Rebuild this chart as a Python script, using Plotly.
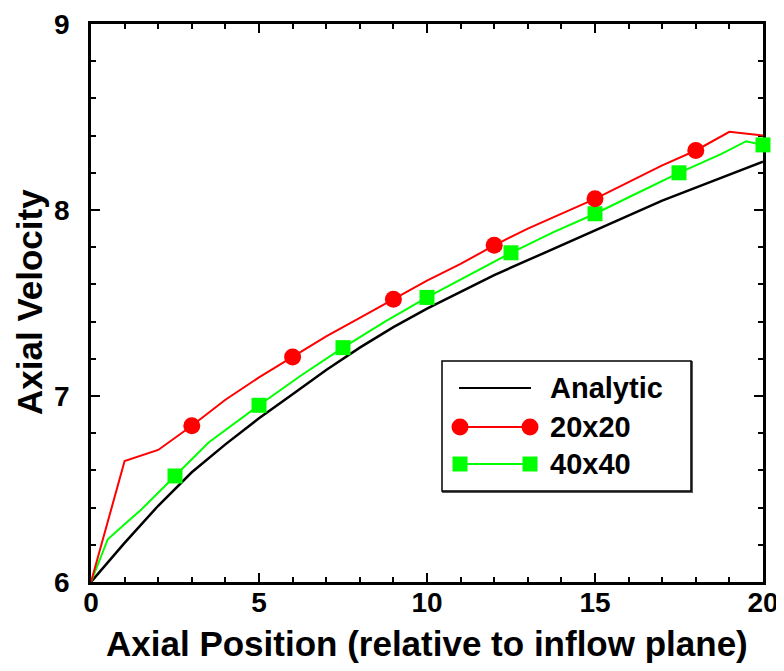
import plotly.graph_objects as go

# ---- data ----
analytic_x = list(range(0, 21))
analytic_y = [6.00, 6.21, 6.41, 6.59, 6.74, 6.88, 7.01, 7.14, 7.26, 7.37, 7.47,
              7.56, 7.65, 7.73, 7.81, 7.89, 7.97, 8.05, 8.12, 8.19, 8.26]

red_x = list(range(0, 21))
red_y = [6.00, 6.65, 6.71, 6.84, 6.98, 7.10, 7.21, 7.32, 7.42, 7.52, 7.62,
         7.71, 7.81, 7.90, 7.98, 8.06, 8.15, 8.24, 8.32, 8.42, 8.40]
red_marker_x = [3, 6, 9, 12, 15, 18]

green_x = [0, 0.5, 1, 1.5, 2, 2.5, 3.5, 5, 6.25, 7.5, 8.75, 10, 11.25, 12.5,
           13.75, 15, 16.25, 17.5, 18.75, 19.5, 20]
green_y = [6.00, 6.23, 6.31, 6.39, 6.48, 6.57, 6.75, 6.95, 7.11, 7.26, 7.40, 7.53,
           7.65, 7.77, 7.88, 7.98, 8.09, 8.20, 8.30, 8.37, 8.35]
green_marker_x = [2.5, 5, 7.5, 10, 12.5, 15, 17.5, 20]

series_names = ["Analytic", "20x20", "40x40"]
x_ticks = [0, 5, 10, 15, 20]
y_ticks = [6, 7, 8, 9]

RED = "#ff0000"
GREEN = "#00ff00"
FONT = "Liberation Sans, Arial, sans-serif"

red_my = [red_y[red_x.index(v)] for v in red_marker_x]
green_my = [green_y[green_x.index(v)] for v in green_marker_x]

fig = go.Figure()
fig.add_trace(go.Scatter(x=analytic_x, y=analytic_y, mode="lines",
                         line=dict(color="black", width=2.5), showlegend=False))
fig.add_trace(go.Scatter(x=green_x, y=green_y, mode="lines",
                         line=dict(color=GREEN, width=2), showlegend=False))
fig.add_trace(go.Scatter(x=red_x, y=red_y, mode="lines",
                         line=dict(color=RED, width=2), showlegend=False))
fig.add_trace(go.Scatter(x=green_marker_x, y=green_my, mode="markers", cliponaxis=False,
                         marker=dict(symbol="square", size=15, color=GREEN), showlegend=False))
fig.add_trace(go.Scatter(x=red_marker_x, y=red_my, mode="markers", cliponaxis=False,
                         marker=dict(symbol="circle", size=17, color=RED), showlegend=False))

# page has an 8px body margin; plot area in page pixels: x 91..763, y 24..582
OFF = 8
W, H = 784 - OFF, 671 - OFF
PL, PR, PT, PB = 91, 763, 24, 582
L, R, T, B = PL - OFF, W - (PR - OFF), PT - OFF, H - (PB - OFF)
PW, PH = PR - PL, PB - PT

def px(xp):
    return (xp - PL) / PW

def py(yp):
    return (PB - yp) / PH

axis_common = dict(
    showline=True, linecolor="black", linewidth=2.5, mirror="allticks",
    ticks="inside", ticklen=9, tickwidth=1.5, tickcolor="black",
    showgrid=False, zeroline=False, layer="below traces", automargin=False,
    tickfont=dict(family=FONT, size=28, color="black", weight="bold"),
)

fig.update_xaxes(range=[0, 20], tickvals=x_ticks, ticktext=[str(v) for v in x_ticks],
                 minor=dict(ticks="inside", ticklen=5, dtick=1, tickwidth=1.5,
                            tickcolor="black", showgrid=False),
                 ticklabelstandoff=-6, **axis_common)
fig.update_yaxes(range=[6, 9], tickvals=y_ticks, ticktext=[str(v) for v in y_ticks],
                 minor=dict(ticks="inside", ticklen=5, dtick=0.2, tickwidth=1.5,
                            tickcolor="black", showgrid=False),
                 ticklabelstandoff=13, **axis_common)

shapes = []
annotations = []

# legend box
shapes.append(dict(type="rect", xref="paper", yref="paper",
                   x0=px(443), x1=px(692), y0=py(492), y1=py(362),
                   line=dict(color="#555555", width=2), fillcolor="rgba(0,0,0,0)", layer="above"))
shapes.append(dict(type="rect", xref="paper", yref="paper",
                   x0=px(442), x1=px(691), y0=py(491), y1=py(361),
                   line=dict(color="black", width=1.5), fillcolor="white", layer="above"))

rows_y = [388, 427, 464]
# Analytic
shapes.append(dict(type="line", xref="paper", yref="paper",
                   x0=px(459), x1=px(531), y0=py(rows_y[0]), y1=py(rows_y[0]),
                   line=dict(color="black", width=2), layer="above"))
# 20x20
shapes.append(dict(type="line", xref="paper", yref="paper",
                   x0=px(460), x1=px(530), y0=py(rows_y[1]), y1=py(rows_y[1]),
                   line=dict(color=RED, width=2), layer="above"))
for cx in (460, 530):
    shapes.append(dict(type="circle", xref="paper", yref="paper",
                       xsizemode="pixel", ysizemode="pixel",
                       xanchor=px(cx), yanchor=py(rows_y[1]),
                       x0=-8.5, x1=8.5, y0=-8.5, y1=8.5,
                       fillcolor=RED, line=dict(width=0), layer="above"))
# 40x40
shapes.append(dict(type="line", xref="paper", yref="paper",
                   x0=px(460), x1=px(530), y0=py(rows_y[2]), y1=py(rows_y[2]),
                   line=dict(color=GREEN, width=2), layer="above"))
for cx in (460, 530):
    shapes.append(dict(type="rect", xref="paper", yref="paper",
                       xsizemode="pixel", ysizemode="pixel",
                       xanchor=px(cx), yanchor=py(rows_y[2]),
                       x0=-7.5, x1=7.5, y0=-7.5, y1=7.5,
                       fillcolor=GREEN, line=dict(width=0), layer="above"))

for name, ry in zip(series_names, rows_y):
    annotations.append(dict(text=name, xref="paper", yref="paper", x=px(548), y=py(ry),
                            xanchor="left", yanchor="middle", showarrow=False,
                            font=dict(family=FONT, size=29, color="black", weight="bold")))

# axis titles
annotations.append(dict(text="Axial Position (relative to inflow plane)", xref="paper", yref="paper",
                        x=px(427), y=py(643), xanchor="center", yanchor="middle", showarrow=False,
                        font=dict(family=FONT, size=35, color="black", weight="bold")))
annotations.append(dict(text="Axial Velocity", xref="paper", yref="paper",
                        x=px(29), y=py(302), xanchor="center", yanchor="middle", showarrow=False,
                        textangle=-90,
                        font=dict(family=FONT, size=35, color="black", weight="bold")))

fig.update_layout(
    width=W, height=H,
    margin=dict(l=L, r=R, t=T, b=B, autoexpand=False),
    paper_bgcolor="white", plot_bgcolor="white",
    showlegend=False,
    shapes=shapes, annotations=annotations,
)

fig.write_html("out.html")
